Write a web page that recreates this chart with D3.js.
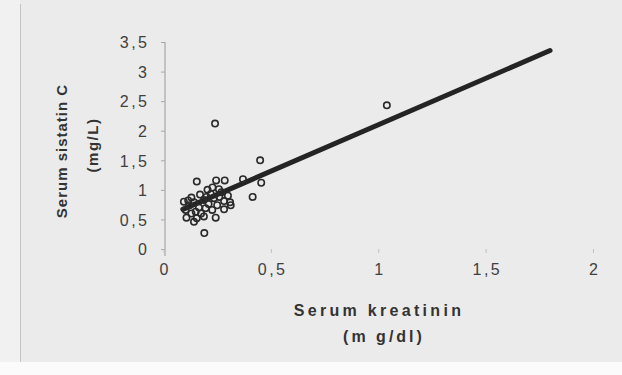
<!DOCTYPE html>
<html><head><meta charset="utf-8">
<script src="https://cdn.jsdelivr.net/npm/d3@7"></script>
<style>
html,body{margin:0;padding:0;background:#ebebeb;}
svg{display:block;}
text{font-family:"Liberation Sans",Arial,sans-serif;}
</style></head>
<body><svg id="c" width="622" height="375"></svg>
<script>
// ---- data ----
const kreatinin = [1.04,0.24,0.45,0.455,0.415,0.37,0.19,
  0.155,0.245,0.285,0.205,0.228,0.258,0.17,0.13,0.095,0.142,0.188,0.235,0.282,
  0.103,0.15,0.196,0.227,0.282,0.107,0.142,0.188,0.243,0.313,0.30,0.31,0.12,
  0.165,0.21,0.25,0.13,0.175,0.22,0.26,0.115,0.27,0.20,0.155];
const sistatin = [2.43,2.12,1.50,1.12,0.88,1.18,0.27,
  1.14,1.16,1.16,1.00,1.04,1.01,0.92,0.87,0.80,0.79,0.83,0.86,0.81,
  0.66,0.63,0.69,0.66,0.67,0.53,0.46,0.55,0.53,0.74,0.90,0.79,0.74,
  0.70,0.76,0.74,0.60,0.60,0.93,0.88,0.82,0.96,0.88,0.52];
const trendX = [0.09, 1.80];
const trendY = [0.67, 3.355];
const xTicks = [0, 0.5, 1, 1.5, 2];
const yTicks = [0, 0.5, 1, 1.5, 2, 2.5, 3, 3.5];
const xTitle = ["Serum kreatinin", "(m g/dl)"];
const yTitle = ["Serum sistatin C", "(mg/L)"];

// ---- drawing ----
const svg = d3.select("#c");
const fmt = v => String(v).replace(".", ",");
const x = d3.scaleLinear().domain([0, 2]).range([163.5, 593]);
const y = d3.scaleLinear().domain([0, 3.5]).range([249, 42]);

// paper
svg.append("rect").attr("x",0).attr("y",0).attr("width",622).attr("height",375).attr("fill","#ebebeb");
svg.append("rect").attr("x",0).attr("y",0).attr("width",20).attr("height",375).attr("fill","#f1f1f1");
svg.append("rect").attr("x",0).attr("y",362).attr("width",622).attr("height",13).attr("fill","#fbfbfb");
svg.append("line").attr("x1",20.5).attr("x2",20.5).attr("y1",4).attr("y2",362).attr("stroke","#c4c4c4").attr("stroke-width",1);

// y axis
const yAxis = d3.axisLeft(y).tickValues(yTicks).tickSize(4).tickFormat(fmt);
const gy = svg.append("g").attr("transform","translate(165,0)").call(yAxis);
gy.select(".domain").attr("stroke","#9a9a9a").attr("d","M0,42V256");
gy.selectAll(".tick line").attr("stroke","#a8a8a8");
gy.selectAll(".tick text").attr("fill","#404040").attr("font-size","16px")
  .attr("letter-spacing","2.5px").attr("x",-15.5).attr("dy","0.36em");

// x axis (ticks only, no line)
const xAxis = d3.axisBottom(x).tickValues(xTicks).tickSize(4).tickFormat(fmt);
const gx = svg.append("g").attr("transform","translate(0,249)").call(xAxis);
gx.select(".domain").remove();
gx.selectAll(".tick line").attr("stroke","#c0c0c0");
gx.selectAll(".tick text").attr("fill","#404040").attr("font-size","16px")
  .attr("letter-spacing","2.5px").attr("dx","1.25px").attr("y",15).attr("dy","0.71em");

// trend line
svg.append("path")
  .datum(trendX.map((d,i)=>[d, trendY[i]]))
  .attr("d", d3.line().x(d=>x(d[0])).y(d=>y(d[1])))
  .attr("stroke","#242424").attr("stroke-width",5).attr("stroke-linecap","round").attr("fill","none");

// points
svg.append("g").selectAll("circle")
  .data(kreatinin.map((d,i)=>[d, sistatin[i]]))
  .join("circle")
  .attr("cx", d=>x(d[0])).attr("cy", d=>y(d[1])).attr("r", 3.2)
  .attr("fill","none").attr("stroke","#2a2a2a").attr("stroke-width",1.6);

// titles
svg.append("text").attr("x",379).attr("y",316).attr("text-anchor","middle")
  .attr("font-size","16px").attr("font-weight","bold").attr("letter-spacing","3.3px")
  .attr("fill","#333").text(xTitle[0]);
svg.append("text").attr("x",384).attr("y",342).attr("text-anchor","middle")
  .attr("font-size","16px").attr("font-weight","bold").attr("letter-spacing","3px")
  .attr("fill","#333").text(xTitle[1]);
svg.append("text").attr("transform","translate(67,151) rotate(-90)").attr("text-anchor","middle")
  .attr("font-size","15px").attr("font-weight","bold").attr("letter-spacing","1px")
  .attr("fill","#333").text(yTitle[0]);
svg.append("text").attr("transform","translate(98,145) rotate(-90)").attr("text-anchor","middle")
  .attr("font-size","15px").attr("font-weight","bold").attr("letter-spacing","1.5px")
  .attr("fill","#333").text(yTitle[1]);
</script>
</body></html>
